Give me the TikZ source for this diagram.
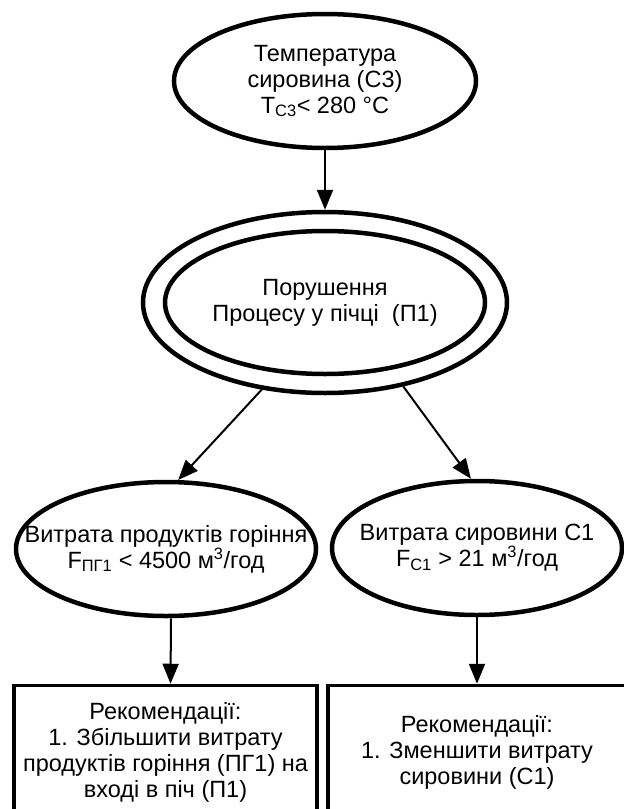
\documentclass[tikz,border=0pt]{standalone}
\usepackage{fontspec}
\setmainfont{Liberation Sans}
\usetikzlibrary{shapes.geometric,arrows.meta}
\begin{document}
\begin{tikzpicture}[x=1pt,y=-1pt,
  txt/.style={align=center,font=\fontsize{23.5}{26}\selectfont,text=black,inner sep=0pt},
  ell/.style={ellipse,draw=black,line width=4.5pt,inner sep=0pt},
  recbox/.style={rectangle,draw=black,line width=3.5pt,inner sep=0pt,txt},
  arr/.style={draw=black,line width=2pt,-{Triangle[length=20pt,width=16pt]}}]
\clip (0,0) rectangle (624,809);
\fill[white] (0,0) rectangle (624,809);
% top ellipse
\node[ell,minimum width=302pt,minimum height=134pt,
  label={[txt]center:{Температура\\сировина (С3)\\Т\textsubscript{С3}< 280 °C}}] (top) at (325,81) {};
% double ellipse
\node[ell,minimum width=364pt,minimum height=181pt] (outer) at (325,302.5) {};
\node[ell,minimum width=320pt,minimum height=143pt,
  label={[txt]center:{Порушення\\Процесу у пічці\ \ (П1)}}] (inner) at (325,302.5) {};
% lower ellipses
\node[ell,minimum width=300pt,minimum height=134pt,
  label={[txt]center:{Витрата продуктів горіння\\F\textsubscript{ПГ1} < 4500 м\textsuperscript{3}/год}}] (left) at (166,549) {};
\node[ell,minimum width=290pt,minimum height=134pt,
  label={[txt]center:{Витрата сировини С1\\F\textsubscript{С1} > 21 м\textsuperscript{3}/год}}] (right) at (477,548) {};
% boxes
\node[recbox,minimum width=303pt,minimum height=133pt] (lbox) at (165.5,752)
  {Рекомендації:\\1. Збільшити витрату\\продуктів горіння (ПГ1) на\\вході в піч (П1)};
\node[recbox,minimum width=298pt,minimum height=133pt] (rbox) at (477,752)
  {Рекомендації:\\1. Зменшити витрату\\сировини (С1)};
% arrows
\draw[arr] (top.south) -- (outer.north);
\draw[arr] (outer.234) -- (left.80);
\draw[arr] (outer.313) -- (right.95);
\draw[arr] ([xshift=5pt]left.south) -- ([xshift=5pt]lbox.north);
\draw[arr] (right.south) -- (rbox.north);
\end{tikzpicture}
\end{document}
